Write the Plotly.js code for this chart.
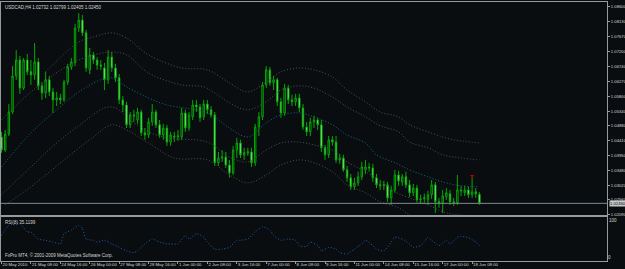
<!DOCTYPE html>
<html><head><meta charset="utf-8">
<script src="https://cdn.plot.ly/plotly-3.0.1.min.js"></script>
<style>html,body{margin:0;padding:0;background:#0a0d0f;}#chart{width:625px;height:269px;}</style>
</head><body><div id="chart"></div>
<script>
const symbolName = 'USDCAD,H4';
const rsiName = 'RSI(8)';
const rsiLast = '35.1199';
const copyright = 'FxPro MT4, \u00a9 2001-2009 MetaQuotes Software Corp.';

const xTickBars = [0,8,16,24,32,40,48,56,64,72,80,88,96,104,112,120,128];
const xTickLabels = ['20 May 2010','21 May 08:00','24 May 16:00','26 May 00:00','27 May 08:00','28 May 16:00','1 Jun 00:00','2 Jun 08:00','3 Jun 16:00','7 Jun 00:00','8 Jun 08:00','9 Jun 16:00','11 Jun 00:00','14 Jun 08:00','15 Jun 16:00','17 Jun 00:00','18 Jun 08:00'];
const priceTicks = [1.0860,1.0813,1.0767,1.0720,1.0674,1.0627,1.0580,1.0534,1.0488,1.0441,1.0395,1.0348,1.0302,1.0256,1.0209];

const open = [1.0453,1.0412,1.0462,1.0531,1.0644,1.0694,1.0606,1.0694,1.0657,1.0647,1.0688,1.0613,1.0591,1.0632,1.0594,1.0569,1.0575,1.0569,1.0625,1.0672,
1.0685,1.0794,1.0819,1.0779,1.0663,1.0710,1.0694,1.0678,1.0669,1.0632,1.0703,1.0669,1.0638,1.0569,1.0553,1.0491,1.0522,1.0506,1.0531,1.0466,
1.0459,1.0500,1.0531,1.0491,1.0459,1.0481,1.0437,1.0456,1.0453,1.0453,1.0528,1.0481,1.0516,1.0553,1.0547,1.0516,1.0556,1.0538,1.0522,1.0372,
1.0387,1.0390,1.0365,1.0340,1.0412,1.0434,1.0397,1.0403,1.0406,1.0372,1.0484,1.0516,1.0616,1.0663,1.0622,1.0632,1.0563,1.0528,1.0606,1.0569,
1.0563,1.0575,1.0544,1.0484,1.0469,1.0500,1.0506,1.0491,1.0419,1.0397,1.0444,1.0437,1.0381,1.0387,1.0350,1.0325,1.0297,1.0309,1.0328,1.0350,
1.0359,1.0356,1.0325,1.0303,1.0300,1.0303,1.0262,1.0287,1.0334,1.0312,1.0328,1.0303,1.0278,1.0293,1.0256,1.0259,1.0256,1.0272,1.0303,1.0250,
1.0247,1.0265,1.0275,1.0250,1.0247,1.0287,1.0278,1.0287,1.0272,1.0281,1.02732];
const high = [1.0469,1.0475,1.0556,1.0675,1.0725,1.0707,1.0700,1.0713,1.0694,1.0747,1.0700,1.0625,1.0657,1.0644,1.0606,1.0594,1.0588,1.0632,1.0682,1.0700,
1.0807,1.0841,1.0835,1.0788,1.0732,1.0719,1.0703,1.0694,1.0685,1.0725,1.0719,1.0682,1.0650,1.0581,1.0563,1.0531,1.0538,1.0544,1.0538,1.0481,
1.0513,1.0556,1.0538,1.0506,1.0494,1.0491,1.0469,1.0469,1.0475,1.0544,1.0538,1.0531,1.0569,1.0569,1.0556,1.0569,1.0569,1.0550,1.0531,1.0406,
1.0412,1.0406,1.0381,1.0425,1.0450,1.0444,1.0419,1.0419,1.0419,1.0494,1.0531,1.0625,1.0675,1.0672,1.0644,1.0638,1.0575,1.0619,1.0616,1.0585,
1.0588,1.0588,1.0556,1.0500,1.0513,1.0519,1.0513,1.0506,1.0428,1.0456,1.0456,1.0456,1.0400,1.0397,1.0362,1.0337,1.0325,1.0344,1.0375,1.0381,
1.0372,1.0369,1.0337,1.0318,1.0315,1.0312,1.0300,1.0350,1.0347,1.0337,1.0344,1.0318,1.0306,1.0303,1.0272,1.0275,1.0284,1.0318,1.0312,1.0262,
1.0287,1.0293,1.0287,1.0262,1.0334,1.0300,1.0300,1.0297,1.0325,1.0293,1.02799];
const low = [1.0403,1.0406,1.0456,1.0525,1.0632,1.0588,1.0600,1.0647,1.0616,1.0632,1.0600,1.0569,1.0575,1.0581,1.0528,1.0550,1.0556,1.0563,1.0616,1.0663,
1.0675,1.0782,1.0769,1.0657,1.0650,1.0682,1.0663,1.0663,1.0600,1.0619,1.0657,1.0625,1.0556,1.0531,1.0481,1.0481,1.0500,1.0494,1.0456,1.0444,
1.0450,1.0488,1.0481,1.0450,1.0444,1.0425,1.0425,1.0437,1.0441,1.0444,1.0469,1.0472,1.0506,1.0531,1.0500,1.0506,1.0525,1.0513,1.0362,1.0362,
1.0375,1.0356,1.0325,1.0334,1.0387,1.0387,1.0381,1.0394,1.0359,1.0362,1.0456,1.0506,1.0606,1.0613,1.0600,1.0550,1.0513,1.0519,1.0556,1.0550,
1.0550,1.0531,1.0475,1.0456,1.0456,1.0481,1.0475,1.0406,1.0381,1.0387,1.0425,1.0372,1.0369,1.0344,1.0312,1.0287,1.0287,1.0300,1.0318,1.0337,
1.0344,1.0312,1.0293,1.0287,1.0287,1.0250,1.0240,1.0278,1.0300,1.0300,1.0293,1.0265,1.0268,1.0247,1.0243,1.0247,1.0240,1.0259,1.0215,1.0231,
1.0215,1.0256,1.0240,1.0237,1.0240,1.0268,1.0268,1.0262,1.0262,1.0262,1.02405];
const close = [1.0412,1.0462,1.0531,1.0644,1.0694,1.0606,1.0694,1.0657,1.0647,1.0688,1.0613,1.0591,1.0632,1.0594,1.0569,1.0575,1.0569,1.0625,1.0672,1.0688,
1.0794,1.0819,1.0779,1.0669,1.0710,1.0694,1.0678,1.0675,1.0632,1.0703,1.0669,1.0638,1.0569,1.0553,1.0491,1.0522,1.0519,1.0531,1.0466,1.0459,
1.0500,1.0531,1.0491,1.0459,1.0481,1.0437,1.0459,1.0453,1.0456,1.0528,1.0481,1.0522,1.0553,1.0547,1.0513,1.0556,1.0538,1.0522,1.0372,1.0387,
1.0390,1.0365,1.0340,1.0412,1.0434,1.0397,1.0403,1.0406,1.0372,1.0484,1.0516,1.0616,1.0663,1.0622,1.0632,1.0563,1.0528,1.0606,1.0569,1.0563,
1.0575,1.0544,1.0484,1.0469,1.0500,1.0506,1.0491,1.0419,1.0397,1.0444,1.0437,1.0381,1.0387,1.0350,1.0325,1.0297,1.0309,1.0328,1.0359,1.0359,
1.0356,1.0325,1.0303,1.0300,1.0303,1.0262,1.0287,1.0334,1.0315,1.0328,1.0303,1.0278,1.0293,1.0256,1.0259,1.0262,1.0272,1.0303,1.0250,1.0247,
1.0268,1.0278,1.0250,1.0247,1.0287,1.0284,1.0287,1.0272,1.0281,1.0275,1.02450];

// band lines (bar index, price)
const upper2Bars = [12,21,25,30,34,40,49,56,62,67,72,76,81,85,90,94,99,103,108,111,116,120,123,130];
const upper2 = [1.0657,1.0750,1.0766,1.0779,1.0763,1.0710,1.0669,1.0663,1.0622,1.0594,1.0625,1.0657,1.0669,1.0663,1.0641,1.0600,1.0563,1.0531,1.0516,1.0491,1.0469,1.0453,1.0444,1.0434];
const upper1Bars = [0,8,17,23,30,34,40,49,55,58,62,67,72,76,81,85,90,94,99,103,108,111,116,120,125,130];
const upper1 = [1.0506,1.0594,1.0669,1.0703,1.0719,1.0710,1.0653,1.0616,1.0610,1.0591,1.0560,1.0538,1.0563,1.0600,1.0613,1.0606,1.0578,1.0547,1.0516,1.0488,1.0469,1.0437,1.0419,1.0397,1.0387,1.0381];
const middleBars = [0,8,15,21,27,30,34,40,45,56,62,67,72,76,81,85,90,94,99,102,107,111,116,120,125,130];
const middle = [1.0359,1.0466,1.0538,1.0594,1.0632,1.0638,1.0610,1.0575,1.0553,1.0528,1.0481,1.0453,1.0497,1.0522,1.0528,1.0516,1.0491,1.0459,1.0434,1.0397,1.0372,1.0350,1.0328,1.0312,1.0300,1.0297];
const lower1Bars = [0,8,15,22,28,31,35,40,45,56,62,67,72,76,81,85,90,94,99,103,107,111,116,121,130];
const lower1 = [1.0272,1.0359,1.0434,1.0497,1.0544,1.0544,1.0506,1.0469,1.0450,1.0437,1.0390,1.0375,1.0412,1.0434,1.0437,1.0428,1.0412,1.0375,1.0344,1.0318,1.0281,1.0262,1.0240,1.0215,1.0205];
const lower2Bars = [1,8,18,25,30,34,40,47,56,62,67,72,76,81,85,90,94,99,103,108,111,116,130];
const lower2 = [1.0240,1.0297,1.0390,1.0453,1.0491,1.0475,1.0434,1.0387,1.0381,1.0334,1.0309,1.0334,1.0365,1.0381,1.0372,1.0344,1.0303,1.0278,1.0250,1.0231,1.0209,1.0187,1.0156];

const rsiBars = [0,2,5,7,8,10,12,14,16,17,19,21,22,23,25,26,28,30,32,34,36,37,39,41,43,45,46,48,50,51,53,55,56,58,60,62,64,65,67,69,71,73,74,76,78,80,81,83,84,86,87,89,91,92,94,96,98,99,101,102,104,106,107,109,111,112,114,115,116,117,119,121,122,124,125,127,129,130];
const rsiValues = [58,81,85,66,66,50,47,43,39,62,70,81,74,50,47,43,47,39,31,23,19,23,39,50,43,39,39,39,58,50,62,54,43,27,27,31,47,47,50,66,78,70,58,47,50,47,35,33,43,35,23,31,27,19,16,27,39,47,35,27,23,43,54,50,39,31,35,43,54,47,35,47,39,54,56,53,43,35];

const markBars = [128];
const markPrices = [1.0331];

const bars = open.map((_, i) => i);
const last = open.length - 1;
const bid = close[last];

const bg = '#0a0d0f';
const frame = '#9a9a9a';
const txt = '#d8d8d8';
const fnt = 'Liberation Sans, Arial, sans-serif';
const fs = 4.5;

const bandLine = (xs, ys, color) => ({
  type: 'scatter', mode: 'lines', x: xs, y: ys, xaxis: 'x2', yaxis: 'y',
  line: {color: color, width: 1, dash: '1px,2px', shape: 'spline', smoothing: 1},
  hoverinfo: 'skip', showlegend: false
});

const traces = [
  bandLine(upper2Bars, upper2, '#505050'),
  bandLine(upper1Bars, upper1, '#505050'),
  bandLine(middleBars, middle, '#0b7272'),
  bandLine(lower1Bars, lower1, '#505050'),
  bandLine(lower2Bars, lower2, '#505050'),
  {
    type: 'candlestick', x: bars, open: open, high: high, low: low, close: close,
    xaxis: 'x2', yaxis: 'y', whiskerwidth: 0,
    increasing: {line: {color: '#00a800', width: 1}, fillcolor: bg},
    decreasing: {line: {color: '#00a800', width: 1}, fillcolor: '#d8ffd8'},
    hoverinfo: 'skip', showlegend: false
  },
  {
    type: 'scatter', mode: 'markers', x: markBars, y: markPrices, xaxis: 'x2', yaxis: 'y',
    marker: {symbol: 'triangle-down', size: 4, color: '#b00000'}, hoverinfo: 'skip', showlegend: false
  },
  {
    type: 'scatter', mode: 'lines', x: rsiBars, y: rsiValues, xaxis: 'x', yaxis: 'y2',
    line: {color: '#1c5fb8', width: 1, dash: '1px,2px', shape: 'spline', smoothing: 0.6},
    hoverinfo: 'skip', showlegend: false
  },
  {type: 'scatter', mode: 'lines', x: [null], y: [null], xaxis: 'x', yaxis: 'y3', hoverinfo: 'skip', showlegend: false}
];

const axisCommon = {showgrid: false, zeroline: false, showline: true, mirror: true, linecolor: frame, linewidth: 1, fixedrange: true};

const layout = {
  width: 625, height: 269,
  paper_bgcolor: bg, plot_bgcolor: bg,
  margin: {l: 1, r: 18, t: 2, b: 8},
  showlegend: false,
  boxgap: 0.45,
  font: {family: fnt, size: fs, color: txt},
  xaxis: Object.assign({}, axisCommon, {
    domain: [0, 1], anchor: 'y2', range: [-0.14, 164.7],
    tickmode: 'array', tickvals: xTickBars, ticktext: xTickLabels, tickangle: 0,
    ticks: 'outside', ticklen: 2, tickcolor: frame, ticklabelstandoff: -1,
    ticklabelposition: 'outside right', tickfont: {family: fnt, size: 4.3, color: txt},
    rangeslider: {visible: false}
  }),
  xaxis2: Object.assign({}, axisCommon, {
    anchor: 'y', matches: 'x', showticklabels: false, ticks: '', rangeslider: {visible: false}
  }),
  yaxis: Object.assign({}, axisCommon, {
    domain: [0.1776, 1], anchor: 'x2', side: 'right', range: [1.02085, 1.08756],
    tickmode: 'array', tickvals: priceTicks, tickformat: '.5f',
    ticks: 'outside', ticklen: 2, tickcolor: frame, tickfont: {family: fnt, size: 4.2, color: txt}
  }),
  yaxis2: Object.assign({}, axisCommon, {
    domain: [0, 0.1699], anchor: 'x', side: 'right', range: [0, 100],
    tickmode: 'array', tickvals: [100], ticktext: ['100'], ticks: '',
    ticklabelposition: 'outside bottom', tickfont: {family: fnt, size: fs, color: txt}
  }),
  yaxis3: {
    overlaying: 'y2', anchor: 'x', side: 'right', range: [0, 100], showgrid: false, zeroline: false, showline: false,
    tickmode: 'array', tickvals: [0], ticktext: ['0'], ticks: '',
    ticklabelposition: 'outside top', tickfont: {family: fnt, size: fs, color: txt}, fixedrange: true
  },
  shapes: [
    {type: 'line', xref: 'paper', x0: 0, x1: 1, yref: 'y', y0: bid, y1: bid, line: {color: '#7f8a90', width: 1}}
  ],
  annotations: [
    {xref: 'paper', yref: 'paper', x: 0, y: 1, xanchor: 'left', yanchor: 'top', xshift: 2, yshift: -1, showarrow: false,
     text: symbolName + ' ' + [open[last], high[last], low[last], close[last]].map(v => v.toFixed(5)).join(' '),
     font: {family: fnt, size: fs, color: txt}},
    {xref: 'paper', yref: 'paper', x: 0, y: 0.1699, xanchor: 'left', yanchor: 'top', xshift: 2, yshift: -1, showarrow: false,
     text: rsiName + ' ' + rsiLast, font: {family: fnt, size: fs, color: txt}},
    {xref: 'paper', yref: 'paper', x: 0, y: 0, xanchor: 'left', yanchor: 'bottom', xshift: 2, yshift: 1, showarrow: false,
     text: copyright, font: {family: fnt, size: fs, color: txt}},
    {xref: 'paper', yref: 'y', x: 1, y: bid, xanchor: 'left', yanchor: 'middle', xshift: 2, showarrow: false,
     text: bid.toFixed(5), bgcolor: '#c8c8c8', borderpad: 0, font: {family: fnt, size: 4.2, color: '#000000'}}
  ]
};

Plotly.newPlot('chart', traces, layout, {staticPlot: true, displayModeBar: false});
</script>
</body></html>
